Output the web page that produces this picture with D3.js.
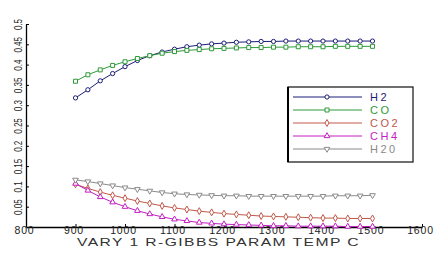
<!DOCTYPE html>
<html><head><meta charset="utf-8">
<script src="https://cdn.jsdelivr.net/npm/d3@7"></script>
<style>body{margin:0;background:#fff}svg{display:block}text{font-family:"Liberation Sans",Arial,sans-serif}</style>
</head><body><div id="chart"></div>
<script>
const temps = d3.range(900, 1501, 25);
const h2  = [0.318,0.338,0.360,0.378,0.395,0.410,0.422,0.431,0.438,0.444,0.448,0.451,0.453,0.455,0.456,0.457,0.457,0.458,0.458,0.458,0.458,0.458,0.458,0.458,0.458];
const co  = [0.359,0.375,0.387,0.398,0.407,0.415,0.422,0.428,0.432,0.435,0.437,0.439,0.440,0.441,0.442,0.442,0.443,0.443,0.444,0.444,0.444,0.445,0.445,0.445,0.445];
const co2 = [0.105,0.095,0.086,0.078,0.071,0.064,0.058,0.052,0.047,0.043,0.039,0.036,0.033,0.031,0.029,0.027,0.026,0.025,0.024,0.023,0.022,0.022,0.021,0.021,0.021];
const ch4 = [0.107,0.090,0.074,0.061,0.050,0.040,0.032,0.025,0.019,0.015,0.011,0.009,0.007,0.006,0.005,0.004,0.003,0.003,0.002,0.002,0.002,0.002,0.001,0.001,0.001];
const h2o = [0.116,0.112,0.107,0.102,0.097,0.093,0.089,0.085,0.082,0.080,0.079,0.078,0.077,0.077,0.076,0.076,0.076,0.076,0.076,0.076,0.076,0.077,0.077,0.077,0.078];
const xTicks = [800,900,1000,1100,1200,1300,1400,1500,1600];
const yTicks = [0.05,0.1,0.15,0.2,0.25,0.3,0.35,0.4,0.45,0.5];
const seriesNames = ["H2","CO","CO2","CH4","H20"];
const seriesData = [h2, co, co2, ch4, h2o];
const colors = ["#1c1c78","#2f9a3a","#c0584a","#c21ec2","#8a8a8a"];
const symbols = [d3.symbolCircle, d3.symbolSquare, d3.symbolDiamond, d3.symbolTriangle, d3.symbolTriangle];

const W = 447, H = 254;
const svg = d3.select("#chart").append("svg").attr("width", W).attr("height", H);
const x = d3.scaleLinear().domain([800,1600]).range([26,422]);
const y = d3.scaleLinear().domain([0,0.5]).range([227,24]);

// axes
const xAxis = d3.axisBottom(x).tickValues(xTicks).tickSizeInner(-3).tickSizeOuter(0).tickPadding(0).tickFormat(d3.format("d"));
const gx = svg.append("g").attr("transform","translate(0,227)").call(xAxis);
gx.select(".domain").attr("stroke","#000").attr("stroke-width",1.3);
gx.selectAll("text").attr("font-size",10.5).attr("fill","#222").attr("letter-spacing","0.8px").attr("dx",-2);

const yAxis = d3.axisLeft(y).tickValues(yTicks).tickSizeInner(-3).tickSizeOuter(0).tickFormat(d=>String(d));
const gy = svg.append("g").attr("transform","translate(26,0)").call(yAxis);
gy.select(".domain").attr("stroke","#000").attr("stroke-width",1.3);
gy.selectAll("text").attr("font-size",10).attr("fill","#222")
  .attr("text-anchor","middle").attr("x",0).attr("dy",0)
  .attr("transform", d=>`translate(-3,0) rotate(-90) scale(0.8,1)`).attr("y",-1);
svg.append("text").attr("x",77).attr("y",246).attr("textLength",283).attr("lengthAdjust","spacingAndGlyphs")
  .attr("font-size",11).attr("letter-spacing","1px").attr("fill","#333").text("VARY 1 R-GIBBS PARAM TEMP   C");

// series
const line = d3.line().x((d,i)=>x(temps[i])).y(d=>y(d));
seriesData.forEach((vals, k) => {
  const g = svg.append("g");
  g.append("path").datum(vals).attr("d", line).attr("fill","none").attr("stroke",colors[k]).attr("stroke-width",1);
  g.selectAll("path.m").data(vals).join("path").attr("class","m")
    .attr("d", d3.symbol().type(symbols[k]).size(k===1?16:14))
    .attr("transform",(d,i)=>`translate(${x(temps[i])},${y(d)})${k===4?" rotate(180)":""}`)
    .attr("fill","#fff").attr("stroke",colors[k]).attr("stroke-width",1);
});

// legend
const lg = svg.append("g");
lg.append("rect").attr("x",288).attr("y",87).attr("width",125).attr("height",75)
  .attr("fill","#fff").attr("stroke","#222").attr("stroke-width",1.3);
lg.append("line").attr("x1",288).attr("x2",288).attr("y1",87).attr("y2",162).attr("stroke","#000").attr("stroke-width",2);
seriesNames.forEach((n,k)=>{
  const yy = 97 + k*13;
  lg.append("line").attr("x1",293).attr("x2",362).attr("y1",yy).attr("y2",yy).attr("stroke",colors[k]).attr("stroke-width",1);
  lg.append("path").attr("d", d3.symbol().type(symbols[k]).size(k===1?16:14)())
    .attr("transform",`translate(327,${yy})${k===4?" rotate(180)":""}`)
    .attr("fill","#fff").attr("stroke",colors[k]);
  lg.append("text").attr("x",370).attr("y",yy+4).attr("font-size",11).attr("letter-spacing","2.5px")
    .attr("fill",colors[k]).text(n);
});
</script></body></html>
